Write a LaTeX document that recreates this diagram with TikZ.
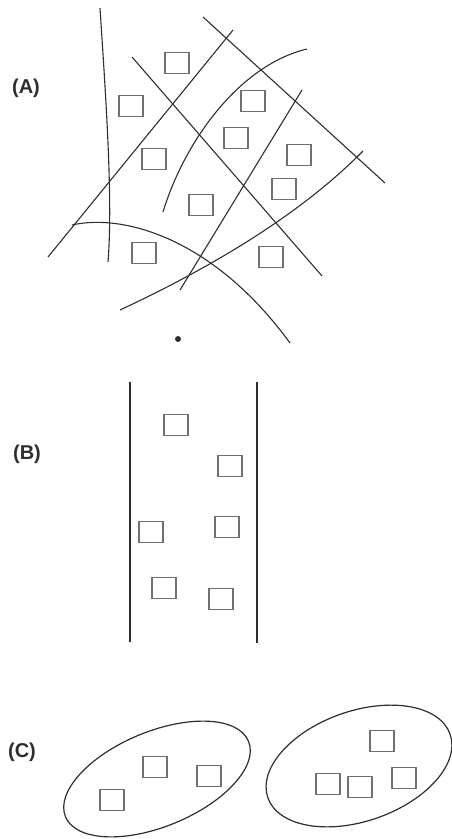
\documentclass[tikz,border=0pt]{standalone}
\usepackage{fontspec}
\setsansfont{Liberation Sans}
\usetikzlibrary{shapes.geometric}
\definecolor{cink}{HTML}{2E2E2E}
\definecolor{cgrey}{HTML}{707070}
\tikzset{
  every picture/.style={line width=1.1pt},
  cell/.style={draw=cgrey, line width=1.4pt, minimum width=24pt, minimum height=21pt, inner sep=0pt},
  wall/.style={draw=cink, line width=1.1pt},
  panel/.style={font=\sffamily\bfseries\fontsize{20}{22}\selectfont, text=cink},
}

\begin{document}
\begin{tikzpicture}[x=1pt, y=-1pt,
  group/.style={ellipse, draw=cink, line width=1.2pt, inner sep=0pt},
  spot/.style={circle, fill=cink, inner sep=2.1pt}]
  \useasboundingbox (0,0) rectangle (452,839);
  \node[panel] (labA) at (26,88) {(A)};
  \node[panel] (labB) at (27,454) {(B)};
  \node[panel] (labC) at (22,752) {(C)};
  % panel A: crossing walls
  \draw[wall] (100,8) .. controls (106,100) and (113,200) .. (108,262);
  \draw[wall] (48,257) -- (233,30);
  \draw[wall] (132,57) -- (322,276);
  \draw[wall] (203,17) -- (385,183);
  \draw[wall] (163,212) .. controls (185,140) and (240,65) .. (307,49);
  \draw[wall] (180,290) -- (302,90);
  \draw[wall] (120,310) .. controls (210,268) and (300,215) .. (363,151);
  \draw[wall] (72,225) .. controls (125,213) and (215,240) .. (290,343);
  \node[cell] (a1) at (177,63) {};
  \node[cell] (a2) at (131,106) {};
  \node[cell] (a3) at (253,101) {};
  \node[cell] (a4) at (236,138) {};
  \node[cell] (a5) at (154,159) {};
  \node[cell] (a6) at (299,155) {};
  \node[cell] (a7) at (284,189) {};
  \node[cell] (a8) at (201,205) {};
  \node[cell] (a9) at (144,253) {};
  \node[cell] (a10) at (271,257) {};
  \node[spot] (pt) at (178,339) {};
  % panel B: two straight walls
  \draw[wall] (130,382) -- (130,642);
  \draw[wall] (257,382) -- (257,643);
  \node[cell] (b1) at (176,425) {};
  \node[cell] (b2) at (230,466) {};
  \node[cell] (b3) at (151,532) {};
  \node[cell] (b4) at (227,527) {};
  \node[cell] (b5) at (164,588) {};
  \node[cell] (b6) at (221,599) {};
  % panel C: two clusters
  \node[group, rotate=22.4, minimum width=198pt, minimum height=95pt] (grpL) at (157,779) {};
  \node[group, rotate=19.2, minimum width=193pt, minimum height=110pt] (grpR) at (359,766) {};
  \node[cell] (c1) at (155,767) {};
  \node[cell] (c2) at (209,776) {};
  \node[cell] (c3) at (112,800) {};
  \node[cell] (c4) at (382,741) {};
  \node[cell] (c5) at (328,784) {};
  \node[cell] (c6) at (360,787) {};
  \node[cell] (c7) at (404,778) {};
\end{tikzpicture}
\end{document}
